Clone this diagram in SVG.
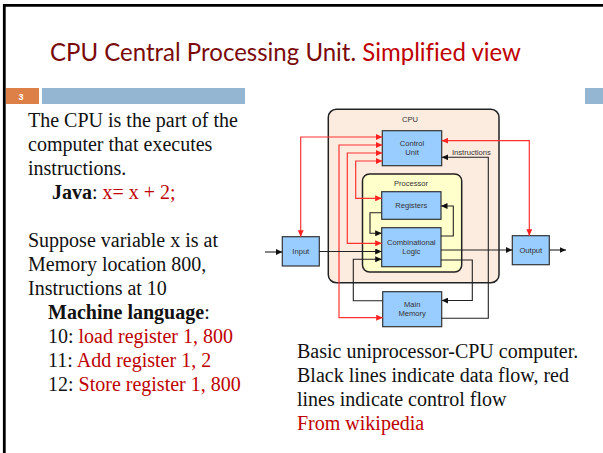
<svg xmlns="http://www.w3.org/2000/svg" width="603" height="453" viewBox="0 0 603 453">
  <style>
    .title { font-family: "Lato", "Open Sans", sans-serif; font-size: 25px; font-variant-ligatures: none; }
    .body { font-family: "Liberation Serif", "Times New Roman", serif; font-size: 20px; fill: #111; }
    .red { fill: #C00000; }
    .lbl { font-family: "Liberation Sans", Arial, sans-serif; font-size: 7.6px; fill: #333; text-anchor: middle; }
    .unit { fill: #99CCFF; stroke: #333; stroke-width: 1.2; }
    .ctl { fill: none; stroke: #FF3333; stroke-width: 1.2; }
    .data { fill: none; stroke: #222; stroke-width: 1.1; }
  </style>
  <defs>
    <marker id="ah-black" markerUnits="userSpaceOnUse" markerWidth="7" markerHeight="6" refX="6.5" refY="3" orient="auto-start-reverse">
      <path d="M0,0 L6.5,3 L0,6 z" fill="#111"/>
    </marker>
    <marker id="ah-red" markerUnits="userSpaceOnUse" markerWidth="7" markerHeight="6" refX="6.5" refY="3" orient="auto-start-reverse">
      <path d="M0,0 L6.5,3 L0,6 z" fill="#FF2020"/>
    </marker>
  </defs>

  <rect width="603" height="453" fill="#fff"/>
  <!-- slide frame -->
  <path d="M4.3,453 V5.3 H603" fill="none" stroke="#000" stroke-width="2.8"/>

  <!-- title -->
  <text class="title" x="50" y="61" textLength="471" lengthAdjust="spacingAndGlyphs"><tspan fill="#7A0A0A">CPU Central Processing Unit. </tspan><tspan fill="#C00000">Simplified view</tspan></text>

  <!-- slide number bar -->
  <rect x="6" y="88" width="33" height="16" fill="#DD8047"/>
  <text x="21" y="99.5" font-family="Liberation Sans, Arial, sans-serif" font-size="9" font-weight="bold" fill="#fff" text-anchor="middle">3</text>
  <rect x="42" y="88" width="203" height="16" fill="#94B6D2"/>
  <rect x="585" y="88" width="18" height="16" fill="#94B6D2"/>

  <!-- left column text -->
  <g class="body">
    <text x="28" y="127">The CPU is the part of the</text>
    <text x="28" y="151">computer that executes</text>
    <text x="28" y="175">instructions.</text>
    <text x="52" y="199"><tspan font-weight="bold">Java</tspan>: <tspan class="red">x= x + 2;</tspan></text>
    <text x="28" y="247">Suppose variable x is at</text>
    <text x="28" y="271">Memory location 800,</text>
    <text x="28" y="295">Instructions at 10</text>
    <text x="48" y="319"><tspan font-weight="bold">Machine language</tspan>:</text>
    <text x="48" y="343">10: <tspan class="red">load register 1, 800</tspan></text>
    <text x="48" y="367">11: <tspan class="red">Add register 1, 2</tspan></text>
    <text x="48" y="391">12: <tspan class="red">Store register 1, 800</tspan></text>
  </g>

  <!-- caption -->
  <g class="body">
    <text x="297" y="358">Basic uniprocessor-CPU computer.</text>
    <text x="297" y="382">Black lines indicate data flow, red</text>
    <text x="297" y="406">lines indicate control flow</text>
    <text x="297" y="430" class="red">From wikipedia</text>
  </g>

  <!-- containers -->
  <g id="cpu">
    <rect x="328.3" y="109.3" width="170.7" height="173.4" rx="8" fill="#FCEBDF" stroke="#222" stroke-width="1.5"/>
    <text class="lbl" x="410" y="122">CPU</text>
  </g>
  <g id="processor">
    <rect x="362.5" y="174" width="99.2" height="98" rx="7" fill="#FFFFCC" stroke="#222" stroke-width="1.5"/>
    <text class="lbl" x="411" y="186">Processor</text>
  </g>

  <!-- units -->
  <g id="control-unit">
    <rect class="unit" x="382.3" y="130.7" width="59.4" height="35"/>
    <text class="lbl" x="412" y="145.5">Control</text>
    <text class="lbl" x="412" y="154.7">Unit</text>
  </g>
  <g id="registers">
    <rect class="unit" x="381.7" y="191.7" width="59.3" height="27.6"/>
    <text class="lbl" x="411.3" y="208">Registers</text>
  </g>
  <g id="combinational-logic">
    <rect class="unit" x="381.7" y="227.7" width="59.3" height="39"/>
    <text class="lbl" x="411.3" y="244.5">Combinational</text>
    <text class="lbl" x="411.3" y="253.7">Logic</text>
  </g>
  <g id="main-memory">
    <rect class="unit" x="382.7" y="291.7" width="59" height="35"/>
    <text class="lbl" x="412.2" y="306.5">Main</text>
    <text class="lbl" x="412.2" y="316">Memory</text>
  </g>
  <g id="input">
    <rect class="unit" x="282.3" y="236.7" width="37" height="29.3"/>
    <text class="lbl" x="300.8" y="254.2">Input</text>
  </g>
  <g id="output">
    <rect class="unit" x="512.3" y="235.7" width="37" height="29"/>
    <text class="lbl" x="530.8" y="253">Output</text>
  </g>

  <!-- connectors -->
  <g id="connectors">
    <!-- control flow -->
    <path class="ctl" d="M382.3,137 H300.7 V236.7" marker-start="url(#ah-red)" marker-end="url(#ah-red)"/>
    <path class="ctl" d="M382.3,145 H339 V317.7 H382.7" marker-start="url(#ah-red)" marker-end="url(#ah-red)"/>
    <path class="ctl" d="M382.3,153 H347.3 V243.3 H381.7" marker-start="url(#ah-red)" marker-end="url(#ah-red)"/>
    <path class="ctl" d="M382.3,161 H355.7 V198.3 H381.7" marker-start="url(#ah-red)" marker-end="url(#ah-red)"/>
    <path class="ctl" d="M441.7,140.7 H529.3 V235.7" marker-start="url(#ah-red)" marker-end="url(#ah-red)"/>
    <!-- data flow -->
    <path class="data" d="M265,252 H282.3" marker-end="url(#ah-black)"/>
    <path class="data" d="M319.3,251.5 H381.7" marker-end="url(#ah-black)"/>
    <path class="data" d="M381.7,212.7 H370 V233.3 H381.7" marker-end="url(#ah-black)"/>
    <path class="data" d="M441,236 H453.3 V206 H441" marker-end="url(#ah-black)"/>
    <path class="data" d="M441,250 H512.3" marker-end="url(#ah-black)"/>
    <path class="data" d="M549.3,250 H566" marker-end="url(#ah-black)"/>
    <path class="data" d="M441,260 H472.3 V300.5 H441.7" marker-end="url(#ah-black)"/>
    <path class="data" d="M382.7,300.7 H353.3 V259.3 H381.7" marker-end="url(#ah-black)"/>
    <path class="data" d="M441.7,318.3 H488.3 V157.3 H441.7" marker-end="url(#ah-black)"/>
    <text class="lbl" x="471.4" y="155" >Instructions</text>
  </g>
</svg>
